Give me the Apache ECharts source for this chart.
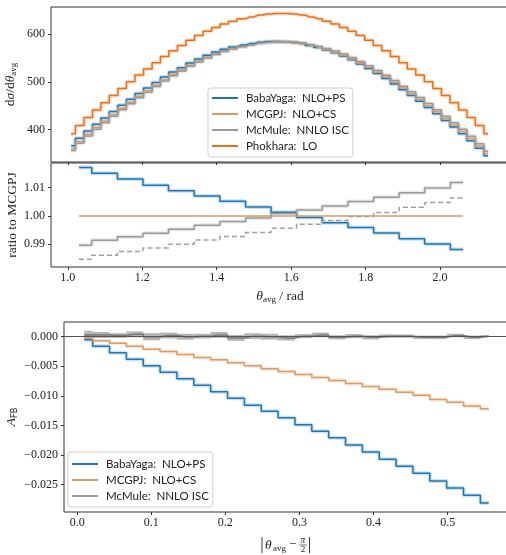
<!DOCTYPE html>
<html>
<head>
<meta charset="utf-8">
<script src="https://cdn.jsdelivr.net/npm/echarts@6/dist/echarts.min.js"></script>
<style>
  html, body { margin: 0; padding: 0; background: #fff; }
  #chart { width: 506px; height: 555px; }
</style>
</head>
<body>
<div id="chart"></div>
<script>
// ---- differential cross section dσ/dθ_avg (bin centres in rad) ----
const thetaBins = [1.009, 1.032, 1.055, 1.078, 1.100, 1.123, 1.146, 1.169, 1.192, 1.215,
  1.238, 1.260, 1.283, 1.306, 1.329, 1.352, 1.375, 1.398, 1.420, 1.443,
  1.466, 1.489, 1.512, 1.535, 1.558, 1.581, 1.603, 1.626, 1.649, 1.672,
  1.695, 1.718, 1.741, 1.763, 1.786, 1.809, 1.832, 1.855, 1.878, 1.901,
  1.923, 1.946, 1.969, 1.992, 2.015, 2.038, 2.061, 2.083, 2.106, 2.129];
const dsigBabaYaga = [366.0, 381.3, 396.6, 410.9, 424.2, 437.5, 450.8, 463.2, 475.5, 487.0,
  498.4, 509.8, 520.3, 529.6, 539.2, 547.8, 555.4, 562.2, 568.0, 572.9,
  576.9, 580.0, 583.0, 584.3, 584.6, 584.1, 582.6, 580.2, 576.0, 571.8,
  566.7, 560.7, 553.8, 546.0, 537.4, 527.8, 517.3, 506.9, 495.5, 483.3,
  471.0, 458.9, 445.8, 432.7, 418.8, 404.9, 391.0, 376.2, 360.5, 344.8];
const dsigMCGPJ = [359.6, 374.9, 390.1, 404.4, 417.8, 431.2, 444.6, 457.1, 469.6, 481.2,
  492.8, 504.4, 515.1, 524.7, 534.5, 543.4, 551.3, 558.4, 564.5, 569.8,
  574.1, 577.6, 581.0, 582.6, 583.3, 583.1, 582.0, 580.0, 576.2, 572.3,
  567.6, 561.9, 555.4, 547.9, 539.6, 530.3, 520.1, 509.9, 498.8, 486.8,
  474.8, 462.8, 449.9, 437.0, 423.2, 409.4, 395.6, 380.9, 365.3, 349.6];
const dsigMcMule = [355.7, 371.0, 386.2, 400.6, 414.1, 427.6, 441.1, 453.7, 466.3, 478.1,
  489.8, 501.6, 512.5, 522.3, 532.3, 541.5, 549.6, 557.0, 563.3, 568.9,
  573.5, 577.3, 581.0, 582.9, 583.8, 583.9, 583.1, 581.3, 577.8, 574.2,
  569.8, 564.3, 558.0, 550.8, 542.7, 533.7, 523.6, 513.6, 502.7, 490.8,
  479.0, 467.1, 454.3, 441.5, 427.7, 414.0, 400.2, 385.5, 369.9, 354.2];
const dsigPhokhara = [391, 408, 425, 441, 456, 471, 486, 500, 514, 527,
  540, 553, 565, 576, 587, 597, 606, 614, 621, 627,
  632, 636, 640, 642, 643, 643, 642, 640, 636, 632,
  627, 621, 614, 606, 597, 587, 576, 565, 553, 540,
  527, 514, 500, 486, 471, 456, 441, 425, 408, 391];

// ---- ratio to MCGPJ (coarser bins) ----
const thetaRatio = [1.030, 1.099, 1.168, 1.236, 1.305, 1.374, 1.443, 1.512,
  1.580, 1.649, 1.718, 1.787, 1.856, 1.924, 1.993, 2.062];
const ratioBabaYaga = [1.0171, 1.0151, 1.0131, 1.0109, 1.0089, 1.0071, 1.0052, 1.0032,
  1.0013, 0.9995, 0.9976, 0.9959, 0.9940, 0.9920, 0.9901, 0.9882];
const ratioMCGPJ = [1, 1, 1, 1, 1, 1, 1, 1, 1, 1, 1, 1, 1, 1, 1, 1];
const ratioMcMule = [0.9897, 0.9914, 0.9927, 0.9939, 0.9953, 0.9967, 0.9981, 0.9993,
  1.0009, 1.0021, 1.0035, 1.0051, 1.0066, 1.0082, 1.0099, 1.0118];
const ratioMcMuleNLO = [0.9847, 0.9861, 0.9875, 0.9887, 0.9900, 0.9915, 0.9928, 0.9942,
  0.9957, 0.9971, 0.9984, 0.9998, 1.0012, 1.0031, 1.0048, 1.0064];

// ---- forward-backward asymmetry vs |θ_avg − π/2| ----
const absDelta = [0.0095, 0.0323, 0.0550, 0.0778, 0.1005, 0.1233, 0.1460, 0.1688, 0.1915,
  0.2143, 0.2370, 0.2598, 0.2825, 0.3053, 0.3280, 0.3508, 0.3735, 0.3963,
  0.4190, 0.4418, 0.4645, 0.4873, 0.5100, 0.5328, 0.5555];
const afbBabaYaga = [-0.0005, -0.0016, -0.0027, -0.0038, -0.0049, -0.0060, -0.0071, -0.0082,
  -0.0093, -0.0104, -0.0116, -0.0126, -0.0137, -0.0149, -0.0160, -0.0171, -0.0183,
  -0.0195, -0.0207, -0.0219, -0.0231, -0.0244, -0.0256, -0.0268, -0.0281];
const afbMCGPJ = [-0.0002, -0.0007, -0.0011, -0.0016, -0.0021, -0.0025, -0.0030, -0.0035,
  -0.0039, -0.0044, -0.0049, -0.0054, -0.0059, -0.0064, -0.0069, -0.0074, -0.0079,
  -0.0084, -0.0089, -0.0094, -0.0099, -0.0106, -0.0111, -0.0117, -0.0122];
const afbMcMule = [0.0003, 0.0003, 0.0002, 0.0004, 0.0000, 0.0002, 0.0000, 0.0001, 0.0003,
  -0.0002, 0.0001, 0.0000, -0.0002, 0.0001, 0.0003, -0.0001, 0.0001, -0.0001,
  0.0001, 0.0001, -0.0001, -0.0001, 0.0002, -0.0001, 0.0001];
const afbMcMuleErr = [0.0007, 0.0005, 0.0004, 0.0005, 0.0006, 0.0005, 0.0005, 0.0004, 0.0005,
  0.0005, 0.0005, 0.0005, 0.00045, 0.00035, 0.0004, 0.00035, 0.00035, 0.00035,
  0.0003, 0.0003, 0.0003, 0.0003, 0.0003, 0.0003, 0.0002];

// ---- tick positions ----
const thetaTicks = [1.0, 1.2, 1.4, 1.6, 1.8, 2.0];
const dsigTicks = [400, 500, 600];
const ratioTicks = [0.99, 1.00, 1.01];
const deltaTicks = [0.0, 0.1, 0.2, 0.3, 0.4, 0.5];
const afbTicks = [0.000, -0.005, -0.010, -0.015, -0.020, -0.025];

const NAMES = {
  bb: 'BabaYaga:  NLO+PS',
  mc: 'MCGPJ:  NLO+CS',
  mm: 'McMule:  NNLO ISC',
  ph: 'Phokhara:  LO'
};
const COL = { bb: '#1f77b4', mc: '#d99c68', mm: '#9a9a9a', ph: '#e8701a' };

const SERIF = '"Liberation Serif", "Times New Roman", serif';
const SANS = 'Lato, "Open Sans", sans-serif';
const INK = '#222';

function pairs(xs, ys) { return xs.map((x, i) => [x, ys[i]]); }

function stepLine(name, axis, xs, ys, color, extra) {
  return Object.assign({
    name: name, type: 'line', step: 'middle',
    xAxisIndex: axis, yAxisIndex: axis,
    data: pairs(xs, ys), symbol: 'none', showSymbol: false,
    color: color, itemStyle: { color: color },
    lineStyle: { color: color, width: 1.5 },
    silent: true, z: 3
  }, extra || {});
}
// soft band drawn under each line
function glow(axis, xs, ys, color) {
  return {
    type: 'line', step: 'middle', xAxisIndex: axis, yAxisIndex: axis,
    data: pairs(xs, ys), symbol: 'none', showSymbol: false,
    lineStyle: { color: color, width: 4, opacity: 0.22 },
    silent: true, z: 2
  };
}

// McMule uncertainty band: one box per bin, edges halfway between centres
const mmBoxes = absDelta.map((x, i) => [
  i === 0 ? x : (absDelta[i - 1] + x) / 2,
  i === absDelta.length - 1 ? x : (x + absDelta[i + 1]) / 2,
  afbMcMule[i] - afbMcMuleErr[i],
  afbMcMule[i] + afbMcMuleErr[i]
]);

function xAxisBase(grid, min, max, ticks, fmt, showLabels) {
  return {
    type: 'value', gridIndex: grid, min: min, max: max,
    axisLine: { show: false, onZero: false },
    splitLine: { show: false },
    axisTick: { show: true, customValues: ticks, length: 3, lineStyle: { color: '#333', width: 1 } },
    axisLabel: { show: showLabels, customValues: ticks, formatter: fmt, margin: 5,
      fontFamily: SERIF, fontSize: 12, color: INK }
  };
}
function yAxisBase(grid, min, max, ticks, fmt) {
  return {
    type: 'value', gridIndex: grid, min: min, max: max,
    axisLine: { show: false, onZero: false },
    splitLine: { show: false },
    axisTick: { show: true, customValues: ticks, length: 3, lineStyle: { color: '#333', width: 1 } },
    axisLabel: { customValues: ticks, formatter: fmt, margin: 6,
      fontFamily: SERIF, fontSize: 12, color: INK },
    nameLocation: 'middle', nameMoveOverlap: false
  };
}

const richBase = {
  n: { fontFamily: SERIF, fontSize: 13.5, lineHeight: 16, color: INK },
  i: { fontFamily: SERIF, fontSize: 13.5, lineHeight: 16, fontStyle: 'italic', color: INK },
  s: { fontFamily: SERIF, fontSize: 9, lineHeight: 9, verticalAlign: 'bottom', color: INK },
  f: { fontFamily: SANS, fontSize: 8.5, lineHeight: 9, verticalAlign: 'bottom', color: INK }
};

const xA = [
  xAxisBase(0, 0.955, 2.185, thetaTicks, v => v.toFixed(1), false),
  Object.assign(xAxisBase(1, 0.955, 2.185, thetaTicks, v => v.toFixed(1), true), {
    name: '{i|θ}{s|avg}{n| / rad}', nameLocation: 'middle', nameGap: 21, nameMoveOverlap: false,
    nameTextStyle: { rich: richBase }
  }),
  xAxisBase(2, -0.0178, 0.5828, deltaTicks, v => v.toFixed(1), true)
];
const yA = [
  Object.assign(yAxisBase(0, 331.7, 656.8, dsigTicks, v => v.toFixed(0)), {
    name: '{n|d}{i|σ}{n|/d}{i|θ}{s|avg}', nameGap: 33, nameTextStyle: { rich: richBase }
  }),
  Object.assign(yAxisBase(1, 0.98198, 1.01873, ratioTicks, v => v.toFixed(2)), {
    name: 'ratio to MCGPJ', nameGap: 32,
    nameTextStyle: { fontFamily: SERIF, fontSize: 13.5, color: INK }
  }),
  Object.assign(yAxisBase(2, -0.02964, 0.00249, afbTicks,
    v => (Math.abs(v) < 1e-9 ? '0.000' : '\u2212' + Math.abs(v).toFixed(3))), {
    name: '{i|A}{f|FB}', nameGap: 45, nameTextStyle: { rich: richBase }
  })
];

const gridStyle = { show: true, borderColor: '#333', borderWidth: 1, backgroundColor: 'transparent',
  outerBoundsMode: 'none', containLabel: false };

const legendStyle = {
  orient: 'vertical', icon: 'rect', itemWidth: 26, itemHeight: 2, itemGap: 4,
  borderColor: '#cfcfcf', borderWidth: 1, borderRadius: 3,
  backgroundColor: 'rgba(255,255,255,0.85)', selectedMode: false,
  textStyle: { fontFamily: SANS, fontSize: 11.5, color: INK, padding: [0, 0, 0, 3] }
};

const option = {
  animation: false,
  backgroundColor: '#fff',
  grid: [
    Object.assign({ left: 51, top: 7, right: -3, height: 155 }, gridStyle),
    Object.assign({ left: 51, top: 163, right: -3, height: 104 }, gridStyle),
    Object.assign({ left: 64, top: 322, right: -3, height: 190 }, gridStyle)
  ],
  xAxis: xA,
  yAxis: yA,
  legend: [
    Object.assign({ data: [NAMES.bb, NAMES.mc, NAMES.mm, NAMES.ph], left: 208, top: 88,
      padding: [4, 4, 5, 4] }, legendStyle),
    Object.assign({ data: [NAMES.bb, NAMES.mc, NAMES.mm], left: 68, top: 452,
      padding: [6, 4, 5, 4] }, legendStyle)
  ],
  series: [
    // cross section
    glow(0, thetaBins, dsigBabaYaga, COL.bb),
    stepLine(NAMES.bb, 0, thetaBins, dsigBabaYaga, COL.bb),
    glow(0, thetaBins, dsigMCGPJ, COL.mc),
    stepLine(NAMES.mc, 0, thetaBins, dsigMCGPJ, COL.mc),
    glow(0, thetaBins, dsigMcMule, COL.mm),
    stepLine(NAMES.mm, 0, thetaBins, dsigMcMule, COL.mm),
    glow(0, thetaBins, dsigPhokhara, COL.ph),
    stepLine(NAMES.ph, 0, thetaBins, dsigPhokhara, COL.ph),

    // ratios
    glow(1, thetaRatio, ratioBabaYaga, COL.bb),
    stepLine(NAMES.bb, 1, thetaRatio, ratioBabaYaga, COL.bb),
    stepLine(NAMES.mc, 1, thetaRatio, ratioMCGPJ, COL.mc),
    glow(1, thetaRatio, ratioMcMule, COL.mm),
    stepLine(NAMES.mm, 1, thetaRatio, ratioMcMule, COL.mm),
    stepLine('McMule:  NLO ISC', 1, thetaRatio, ratioMcMuleNLO, '#a0a0a0',
      { lineStyle: { color: '#a0a0a0', width: 1.5, type: [5, 3] } }),

    // asymmetry
    glow(2, absDelta, afbBabaYaga, COL.bb),
    stepLine(NAMES.bb, 2, absDelta, afbBabaYaga, COL.bb),
    glow(2, absDelta, afbMCGPJ, COL.mc),
    stepLine(NAMES.mc, 2, absDelta, afbMCGPJ, COL.mc),
    {
      type: 'custom', xAxisIndex: 2, yAxisIndex: 2, data: mmBoxes,
      encode: { x: [0, 1], y: [2, 3] }, silent: true, z: 2, clip: true,
      renderItem: function (params, api) {
        const a = api.coord([api.value(0), api.value(3)]);
        const b = api.coord([api.value(1), api.value(2)]);
        return {
          type: 'rect',
          shape: { x: a[0], y: a[1], width: b[0] - a[0], height: b[1] - a[1] },
          style: { fill: 'rgba(120,120,120,0.55)' }
        };
      }
    },
    stepLine(NAMES.mm, 2, absDelta, afbMcMule, COL.mm, {
      lineStyle: { color: '#7a7a7a', width: 1.5 },
      markLine: {
        silent: true, symbol: 'none', animation: false,
        label: { show: false },
        lineStyle: { color: '#555', width: 1, type: 'solid' },
        data: [{ yAxis: 0 }]
      }
    })
  ],
  graphic: [{
    type: 'group', silent: true,
    children: [
      { type: 'line', shape: { x1: 262, y1: 537, x2: 262, y2: 553 }, style: { stroke: INK, lineWidth: 0.9 } },
      { type: 'text', x: 265, y: 545, style: { text: 'θ', font: 'italic 13.5px ' + SERIF, fill: INK, verticalAlign: 'middle', align: 'left' } },
      { type: 'text', x: 273, y: 549, style: { text: 'avg', font: '9px ' + SERIF, fill: INK, verticalAlign: 'middle', align: 'left' } },
      { type: 'text', x: 293, y: 545, style: { text: '\u2212', font: '13px ' + SERIF, fill: INK, verticalAlign: 'middle', align: 'center' } },
      { type: 'text', x: 303, y: 540.5, style: { text: 'π', font: 'italic 9.5px ' + SERIF, fill: INK, verticalAlign: 'middle', align: 'center' } },
      { type: 'line', shape: { x1: 299.5, y1: 545, x2: 306.5, y2: 545 }, style: { stroke: INK, lineWidth: 0.7 } },
      { type: 'text', x: 303, y: 550, style: { text: '2', font: '9px ' + SERIF, fill: INK, verticalAlign: 'middle', align: 'center' } },
      { type: 'line', shape: { x1: 309.5, y1: 537, x2: 309.5, y2: 553 }, style: { stroke: INK, lineWidth: 0.9 } }
    ]
  }]
};

const chart = echarts.init(document.getElementById('chart'), null, { renderer: 'canvas' });
chart.setOption(option);
</script>
</body>
</html>
